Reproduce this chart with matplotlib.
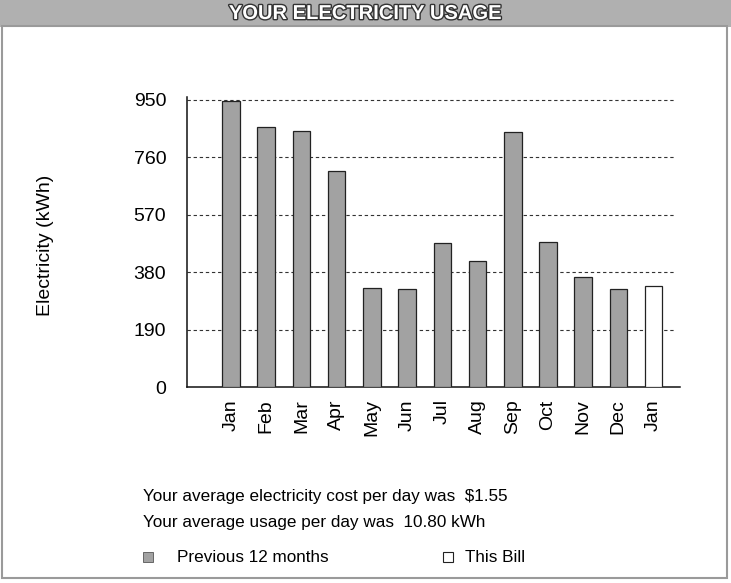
import matplotlib
matplotlib.use("Agg")
import matplotlib.pyplot as plt
import matplotlib.patheffects as pe
from matplotlib.patches import Rectangle

plt.rcParams["font.family"] = ["Liberation Sans", "DejaVu Sans"]

months = ["Jan", "Feb", "Mar", "Apr", "May", "Jun", "Jul", "Aug", "Sep", "Oct", "Nov", "Dec", "Jan"]
usage = [945, 860, 846, 715, 328, 325, 477, 418, 843, 480, 362, 325, 335]
is_this_bill = [False] * 12 + [True]
y_ticks = [0, 190, 380, 570, 760, 950]

title = "YOUR ELECTRICITY USAGE"
cost_line = "Your average electricity cost per day was  $1.55"
usage_line = "Your average usage per day was  10.80 kWh"
legend_prev = "Previous 12 months"
legend_this = "This Bill"

prev_color = "#a2a2a2"

fig = plt.figure(figsize=(7.31, 5.83), dpi=100)

# title band
band = fig.add_axes([0, 1 - 27 / 583, 1, 27 / 583])
band.set_axis_off()
band.add_patch(Rectangle((0, 0), 1, 1, transform=band.transAxes, facecolor="#b0b0b0", edgecolor="none"))
band.text(0.5, 0.5, title, transform=band.transAxes, ha="center", va="center",
          color="white", fontsize=14.5, fontweight="bold",
          path_effects=[pe.withStroke(linewidth=2, foreground="#333333")])

# frame border
fig.add_artist(Rectangle((2 / 731, 5 / 583), 725 / 731, 552 / 583, transform=fig.transFigure,
                         fill=False, edgecolor="#9a9a9a", linewidth=1.5))

ax = fig.add_axes([187 / 731, 196 / 583, 493 / 731, 290.5 / 583])
x = list(range(len(months)))
colors = ["white" if t else prev_color for t in is_this_bill]
ax.bar(x, usage, width=0.5, color=colors, edgecolor="#222222", linewidth=0.9, zorder=3)

ax.set_xlim(-1.25, 12.75)
ax.set_ylim(0, 960)
ax.set_yticks(y_ticks)
ax.set_yticklabels([str(v) for v in y_ticks], fontsize=14)
ax.set_xticks(x)
ax.set_xticklabels(months, rotation=90, fontsize=14)
ax.tick_params(axis="y", length=0, pad=15)
ax.tick_params(axis="x", length=0, pad=9)

for v in y_ticks[1:]:
    ax.plot([-1.25, 12.6], [v, v], color="#333333", linestyle=(0, (3, 2.5)), linewidth=0.8, zorder=1)

for side in ["top", "right"]:
    ax.spines[side].set_visible(False)
ax.spines["left"].set_color("#111111")
ax.spines["bottom"].set_color("#111111")
ax.spines["left"].set_linewidth(1.1)
ax.spines["bottom"].set_linewidth(1.1)

fig.text(46 / 731, 1 - 245 / 583, "Electricity (kWh)", rotation=90, ha="center", va="center", fontsize=14)

fig.text(143 / 731, 1 - 497 / 583, cost_line, ha="left", va="center", fontsize=12.3)
fig.text(143 / 731, 1 - 522 / 583, usage_line, ha="left", va="center", fontsize=12.3)

fig.add_artist(Rectangle((143 / 731, 1 - 562 / 583), 10 / 731, 10 / 583, transform=fig.transFigure,
                         facecolor=prev_color, edgecolor="#555555", linewidth=0.6))
fig.text(177 / 731, 1 - 557 / 583, legend_prev, ha="left", va="center", fontsize=12.3)
fig.add_artist(Rectangle((443 / 731, 1 - 562 / 583), 10 / 731, 10 / 583, transform=fig.transFigure,
                         facecolor="white", edgecolor="#222222", linewidth=0.8))
fig.text(465 / 731, 1 - 557 / 583, legend_this, ha="left", va="center", fontsize=12.3)

fig.savefig("out.png", dpi=100)
